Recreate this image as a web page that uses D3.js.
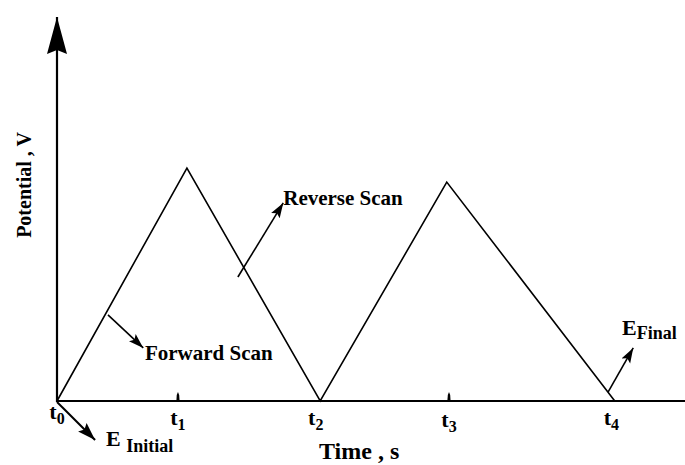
<!DOCTYPE html>
<html>
<head>
<meta charset="utf-8">
<script src="https://cdn.jsdelivr.net/npm/d3@7/dist/d3.min.js"></script>
<style>
  html, body { margin: 0; padding: 0; background: #fff; }
  svg { display: block; }
  text { font-family: "Liberation Serif", "DejaVu Serif", serif; font-weight: bold; fill: #000; }
</style>
</head>
<body>
<script>
// Triangular potential waveform (cyclic voltammetry excitation signal)
const waveTime = [0, 2.32, 4.70, 6.96, 9.96];        // s
const wavePotential = [0, 0.728, 0, 0.684, 0];       // V

// Time markers on the time axis
const tickNames = ["t0", "t1", "t2", "t3", "t4"];
const tickTimes = [0, 2.16, 4.62, 7.0, 9.9];
const tickMarked = [false, true, false, true, false];

// Axis extents (data units)
const timeMax = 12.14;
const potentialMax = 1.2;

// Annotation arrows: [fromTime, fromPot, toTime, toPot]
const arrowNames = ["Forward Scan", "Reverse Scan", "E Initial", "E Final"];
const arrowFrom = [[0.91, 0.269], [3.23, 0.3875], [0.0, -0.003], [9.84, 0.028]];
const arrowTo = [[1.54, 0.166], [4.04, 0.619], [0.68, -0.122], [10.29, 0.166]];
const arrowBig = [false, false, true, false];

const W = 685, H = 465;
const svg = d3.select("body").append("svg").attr("width", W).attr("height", H);

const x = d3.scaleLinear().domain([0, 10]).range([57, 617]);
const y = d3.scaleLinear().domain([0, potentialMax]).range([401, 17]);

// Arrowhead markers
const defs = svg.append("defs");
function addHead(id, len, half, notch) {
  defs.append("marker")
    .attr("id", id)
    .attr("markerUnits", "userSpaceOnUse")
    .attr("viewBox", `0 ${-half - 1} ${len + 1} ${2 * half + 2}`)
    .attr("refX", len).attr("refY", 0)
    .attr("markerWidth", len + 1).attr("markerHeight", 2 * half + 2)
    .attr("orient", "auto")
    .append("path")
    .attr("d", `M0,${-half} L${len},0 L0,${half} L${notch},0 Z`)
    .attr("fill", "#000");
}
addHead("head", 15, 5, 3);
addHead("headBig", 18, 6, 3);
addHead("axisHead", 37, 10, 4);

// Axes with arrowheads
svg.append("line")
  .attr("x1", x(0)).attr("y1", y(0) + 1)
  .attr("x2", x(0)).attr("y2", y(potentialMax))
  .attr("stroke", "#000").attr("stroke-width", 2.2)
  .attr("marker-end", "url(#axisHead)");

svg.append("line")
  .attr("x1", x(0) - 1).attr("y1", y(0))
  .attr("x2", x(timeMax)).attr("y2", y(0))
  .attr("stroke", "#000").attr("stroke-width", 2.2)
  .attr("marker-end", "url(#axisHead)");

// Small tick marks
svg.selectAll("path.tick")
  .data(tickTimes.filter((d, i) => tickMarked[i]))
  .join("path")
  .attr("class", "tick")
  .attr("d", d => {
    const cx = x(d), b = y(0);
    return `M${cx - 1.6},${b} L${cx - 1.2},${b - 6} L${cx},${b - 9} L${cx + 1.2},${b - 6} L${cx + 1.6},${b} Z`;
  })
  .attr("fill", "#000");

// Waveform
const line = d3.line().x(d => x(d[0])).y(d => y(d[1]));
svg.append("path")
  .datum(waveTime.map((t, i) => [t, wavePotential[i]]))
  .attr("d", line)
  .attr("fill", "none")
  .attr("stroke", "#000")
  .attr("stroke-width", 1.6)
  .attr("stroke-linejoin", "miter");

// Annotation arrows
svg.selectAll("line.note")
  .data(arrowNames.map((n, i) => ({ n, a: arrowFrom[i], b: arrowTo[i], big: arrowBig[i] })))
  .join("line")
  .attr("class", "note")
  .attr("x1", d => x(d.a[0])).attr("y1", d => y(d.a[1]))
  .attr("x2", d => x(d.b[0])).attr("y2", d => y(d.b[1]))
  .attr("stroke", "#000").attr("stroke-width", d => d.big ? 2 : 1.6)
  .attr("marker-end", d => d.big ? "url(#headBig)" : "url(#head)");

// Tick labels t0..t4 with subscripts
const tickLabelY = [419, 425, 425, 427, 425];
tickNames.forEach((name, i) => {
  const t = svg.append("text")
    .attr("x", x(tickTimes[i]))
    .attr("y", tickLabelY[i])
    .attr("text-anchor", "middle")
    .style("font-size", "22px");
  t.append("tspan").text(name[0]);
  t.append("tspan").text(name.slice(1)).style("font-size", "16px").attr("dy", 5);
});

// Annotation labels
svg.append("text")
  .attr("x", x(1.57)).attr("y", y(0.128))
  .style("font-size", "21px")
  .text("Forward Scan");

svg.append("text")
  .attr("x", x(4.04)).attr("y", y(0.6125))
  .style("font-size", "21px")
  .text("Reverse Scan");

const eInit = svg.append("text")
  .attr("x", x(0.875)).attr("y", y(-0.14))
  .style("font-size", "22px");
eInit.append("tspan").text("E ");
eInit.append("tspan").text("Initial").style("font-size", "18px").attr("dy", 6);

const eFin = svg.append("text")
  .attr("x", x(10.09)).attr("y", y(0.206))
  .style("font-size", "22px");
eFin.append("tspan").text("E");
eFin.append("tspan").text("Final").style("font-size", "18px").attr("dy", 4);

// Axis titles
svg.append("text")
  .attr("x", 319).attr("y", 459)
  .style("font-size", "24px")
  .text("Time , s");

svg.append("text")
  .attr("transform", "translate(31,185) rotate(-90)")
  .attr("text-anchor", "middle")
  .style("font-size", "20px")
  .text("Potential , V");
</script>
</body>
</html>
